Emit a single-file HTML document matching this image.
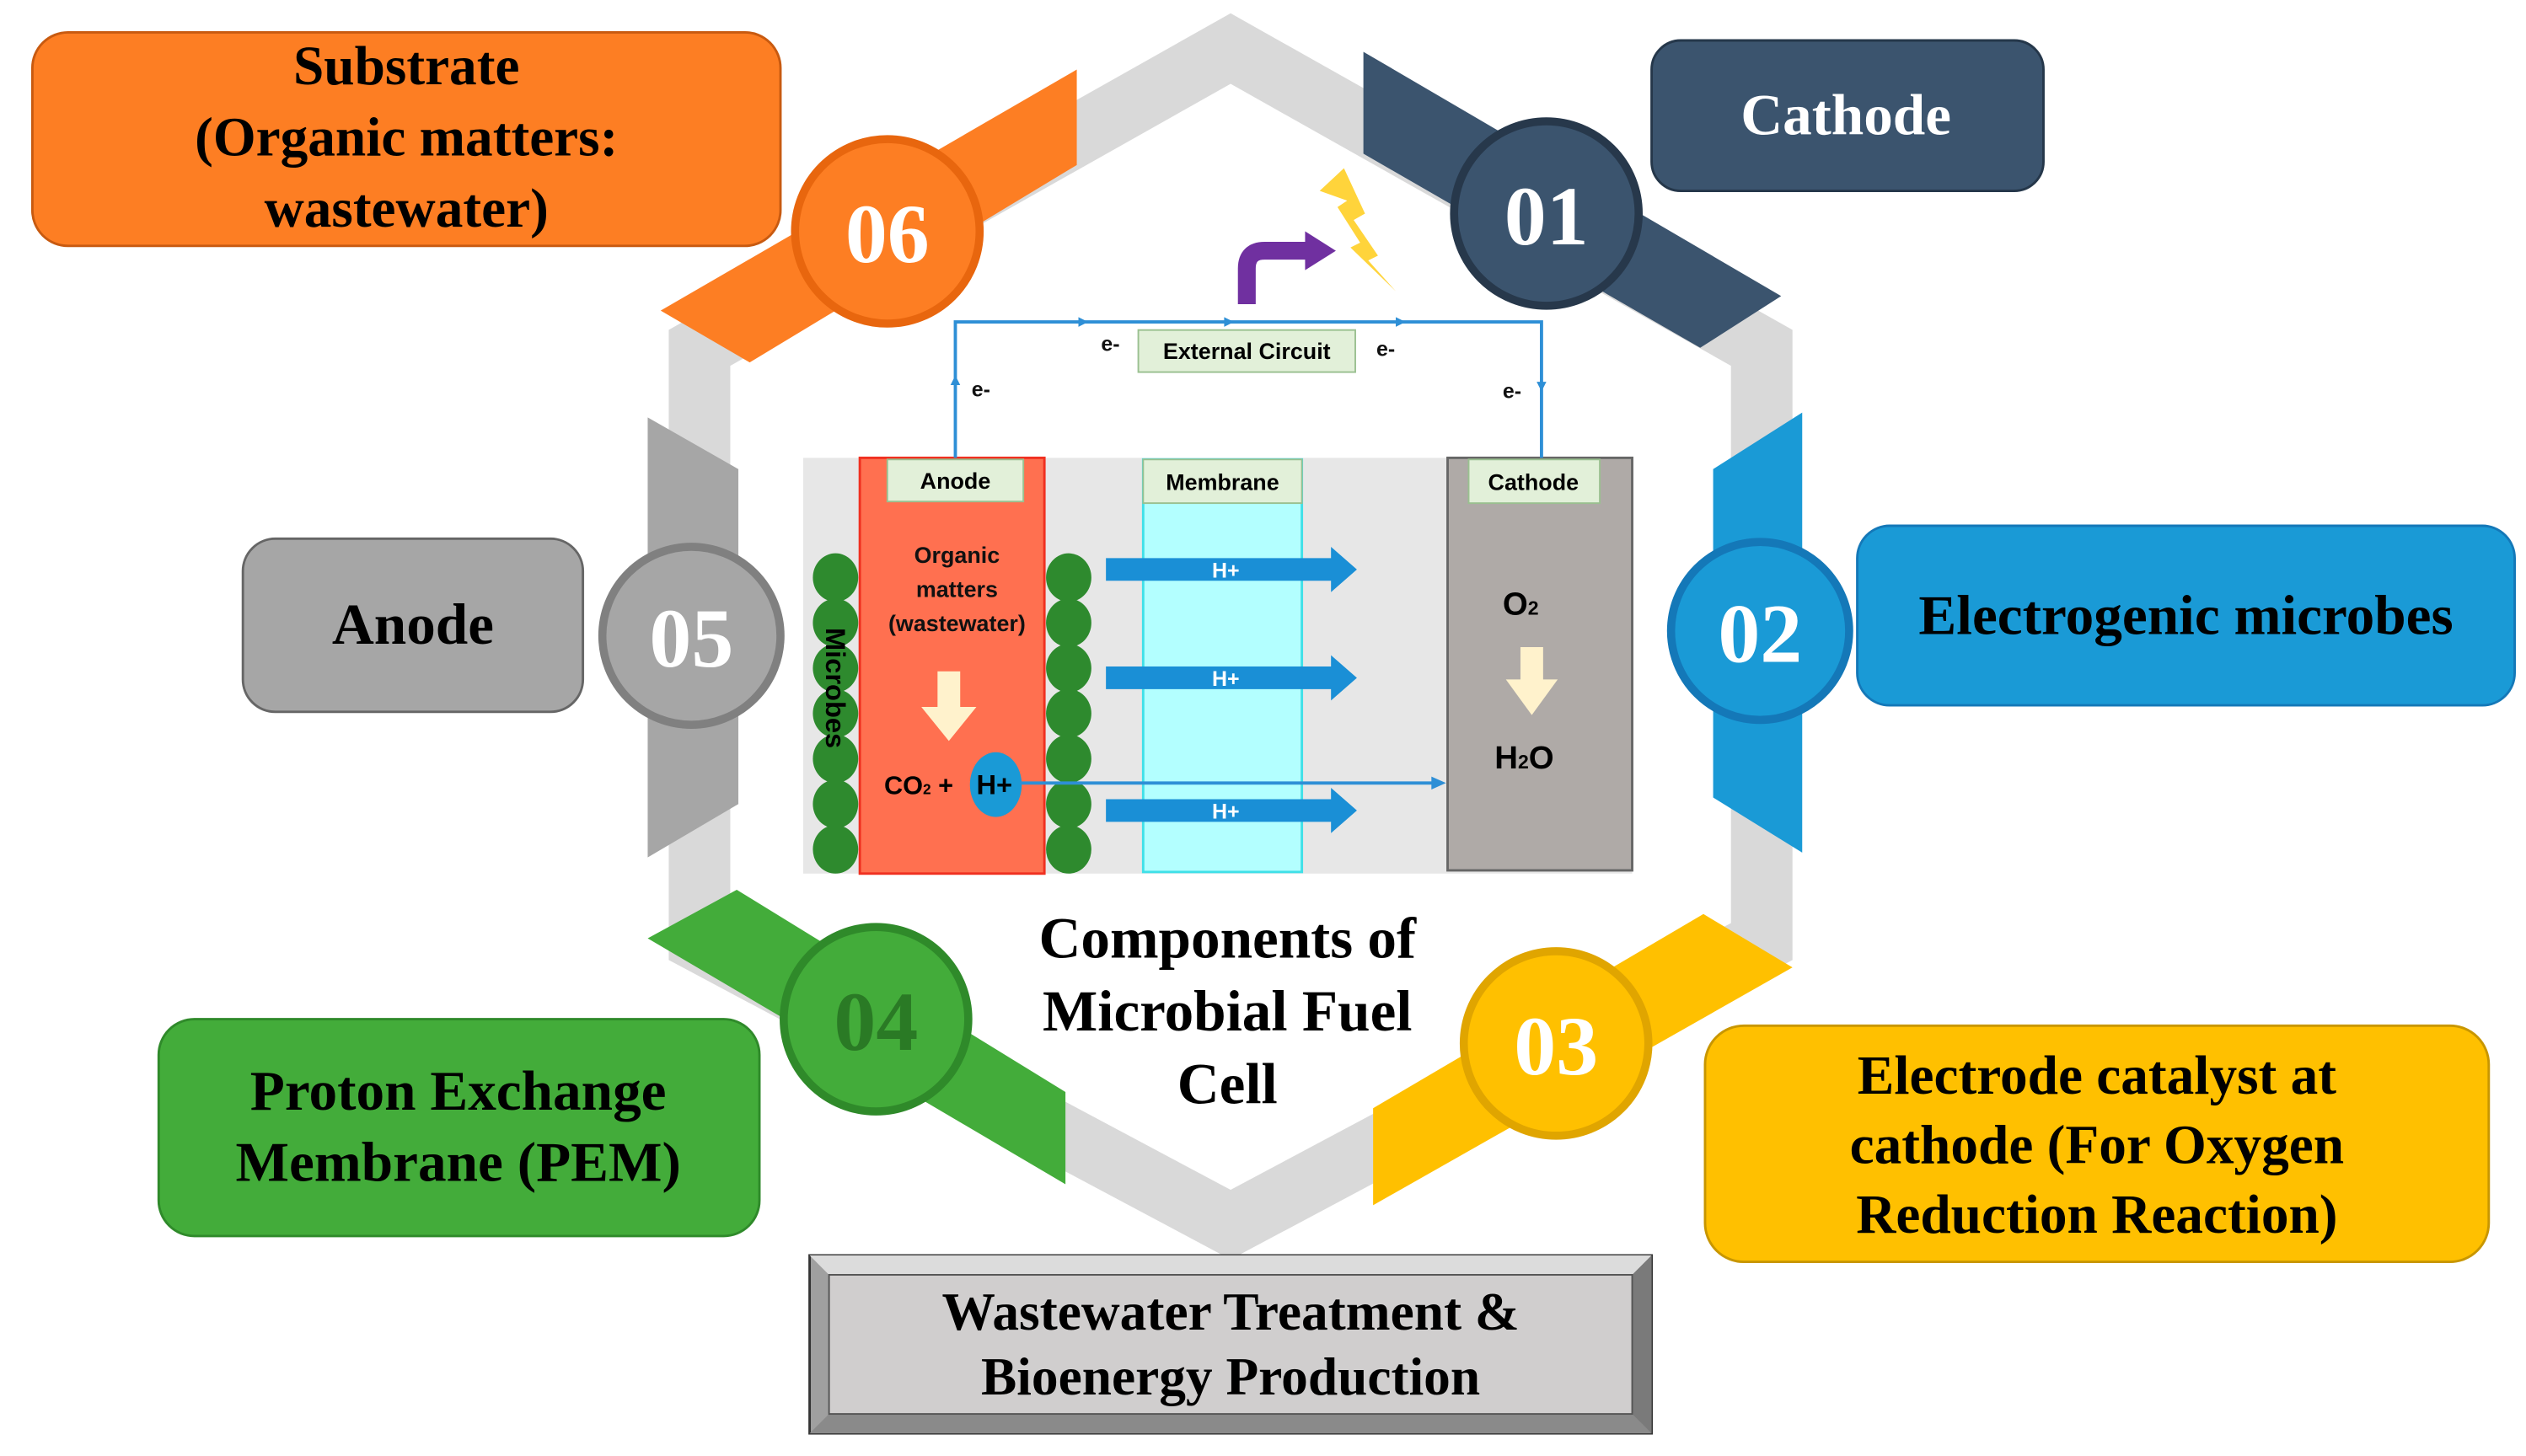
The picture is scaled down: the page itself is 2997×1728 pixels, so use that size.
<!DOCTYPE html>
<html><head><meta charset="utf-8"><style>
html,body{margin:0;padding:0;background:#fff;}
svg{display:block;}
.s{font-family:"Liberation Serif",serif;font-weight:bold;}
.a{font-family:"Liberation Sans",sans-serif;font-weight:bold;}
</style></head><body>
<svg width="2997" height="1728" viewBox="0 0 1560 900" preserveAspectRatio="none" xmlns="http://www.w3.org/2000/svg">
<rect width="1560" height="900" fill="#fff"/>
<polygon points="760,30 1088,215 1088,582 760,757 432,582 432,215" fill="none" stroke="#d9d9d9" stroke-width="38" stroke-linejoin="miter"/>
<polygon points="408,192 665,43 665,102 463,224" fill="#fd7e23"/>
<polygon points="842,32 1100,183 1050,215 842,95" fill="#3b546e"/>
<polygon points="1058,290 1113,255 1113,527 1058,493" fill="#1a9ad6"/>
<polygon points="400,258 456,290 456,497 400,530" fill="#a6a6a6"/>
<polygon points="400,580 455,550 658,675 658,732" fill="#43ac3a"/>
<polygon points="848,685 1052,565 1107,598 848,745" fill="#ffc000"/>
<rect x="20" y="20" width="462" height="132" rx="22" fill="#fd7e23" stroke="#c85a10" stroke-width="1.5"/>
<text class="s" font-size="34" text-anchor="middle"><tspan x="251" y="52">Substrate</tspan><tspan x="251" y="96">(Organic matters:</tspan><tspan x="251" y="140">wastewater)</tspan></text>
<rect x="1020" y="25" width="242" height="93" rx="18" fill="#3b546e" stroke="#25374a" stroke-width="1.5"/>
<text class="s" font-size="36" fill="#fff" x="1140" y="83" text-anchor="middle">Cathode</text>
<rect x="1147" y="325" width="406" height="111" rx="20" fill="#1a9ad6" stroke="#1478b8" stroke-width="1.5"/>
<text class="s" font-size="35" x="1350" y="392" text-anchor="middle">Electrogenic microbes</text>
<rect x="150" y="333" width="210" height="107" rx="20" fill="#a6a6a6" stroke="#666" stroke-width="1.5"/>
<text class="s" font-size="36" x="255" y="398" text-anchor="middle">Anode</text>
<rect x="98" y="630" width="371" height="134" rx="22" fill="#43ac3a" stroke="#2f8a2a" stroke-width="1.5"/>
<text class="s" font-size="35" text-anchor="middle"><tspan x="283" y="686">Proton Exchange</tspan><tspan x="283" y="730">Membrane (PEM)</tspan></text>
<rect x="1053" y="634" width="484" height="146" rx="24" fill="#ffc000" stroke="#c89600" stroke-width="1.5"/>
<text class="s" font-size="34" text-anchor="middle"><tspan x="1295" y="676">Electrode catalyst at</tspan><tspan x="1295" y="719">cathode (For Oxygen</tspan><tspan x="1295" y="762">Reduction Reaction)</tspan></text>
<rect x="500" y="776" width="520" height="110" fill="#a0a0a0" stroke="#333" stroke-width="1.5"/>
<polygon points="500,776 1020,776 1008,788 512,788" fill="#dcdcdc"/>
<polygon points="500,886 1020,886 1008,874 512,874" fill="#8a8a8a"/>
<polygon points="1020,776 1020,886 1008,874 1008,788" fill="#7a7a7a"/>
<rect x="512" y="788" width="496" height="86" fill="#d0cece" stroke="#555" stroke-width="1"/>
<text class="s" font-size="33" text-anchor="middle"><tspan x="760" y="822">Wastewater Treatment &amp;</tspan><tspan x="760" y="862">Bioenergy Production</tspan></text>
<circle cx="548" cy="143" r="57" fill="#fd7e23" stroke="#e8660e" stroke-width="5"/>
<text class="s" font-size="52" fill="#fff" x="548" y="162" text-anchor="middle">06</text>
<circle cx="955" cy="132" r="57" fill="#3b546e" stroke="#27384b" stroke-width="5"/>
<text class="s" font-size="52" fill="#fff" x="955" y="151" text-anchor="middle">01</text>
<circle cx="1087" cy="390" r="55" fill="#1a9ad6" stroke="#1478b8" stroke-width="5"/>
<text class="s" font-size="52" fill="#fff" x="1087" y="409" text-anchor="middle">02</text>
<circle cx="427" cy="393" r="55" fill="#a6a6a6" stroke="#808080" stroke-width="5"/>
<text class="s" font-size="52" fill="#fff" x="427" y="412" text-anchor="middle">05</text>
<circle cx="541" cy="630" r="57" fill="#43ac3a" stroke="#2f8a2a" stroke-width="5"/>
<text class="s" font-size="52" fill="#2a7a25" x="541" y="649" text-anchor="middle">04</text>
<circle cx="961" cy="645" r="57" fill="#ffc000" stroke="#e0a500" stroke-width="5"/>
<text class="s" font-size="52" fill="#fff" x="961" y="664" text-anchor="middle">03</text>
<text class="s" font-size="36" text-anchor="middle"><tspan x="758" y="592">Components of</tspan><tspan x="758" y="637">Microbial Fuel</tspan><tspan x="758" y="682">Cell</tspan></text>
<rect x="496" y="283" width="512" height="257" fill="#e7e7e7"/>
<rect x="531" y="283" width="114" height="257" fill="#ff7050" stroke="#f03020" stroke-width="1.5"/>
<rect x="706" y="284" width="98" height="255" fill="#b3ffff" stroke="#40e0e8" stroke-width="1.5"/>
<rect x="894" y="283" width="114" height="255" fill="#afaaa7" stroke="#666" stroke-width="1.5"/>
<rect x="548" y="284" width="84" height="26" fill="#e2f0d9" stroke="#9ac090"/>
<text class="a" font-size="14" x="590" y="302" text-anchor="middle">Anode</text>
<rect x="706" y="284" width="98" height="27" fill="#e2f0d9" stroke="#9ac090"/>
<text class="a" font-size="14" x="755" y="303" text-anchor="middle">Membrane</text>
<rect x="907" y="284" width="81" height="27" fill="#e2f0d9" stroke="#9ac090"/>
<text class="a" font-size="14" x="947" y="303" text-anchor="middle">Cathode</text>
<g fill="#2e8a2e">
<ellipse cx="516" cy="357" rx="14" ry="15"/><ellipse cx="516" cy="385" rx="14" ry="15"/><ellipse cx="516" cy="413" rx="14" ry="15"/><ellipse cx="516" cy="441" rx="14" ry="15"/><ellipse cx="516" cy="469" rx="14" ry="15"/><ellipse cx="516" cy="497" rx="14" ry="15"/><ellipse cx="516" cy="525" rx="14" ry="15"/>
<ellipse cx="660" cy="357" rx="14" ry="15"/><ellipse cx="660" cy="385" rx="14" ry="15"/><ellipse cx="660" cy="413" rx="14" ry="15"/><ellipse cx="660" cy="441" rx="14" ry="15"/><ellipse cx="660" cy="469" rx="14" ry="15"/><ellipse cx="660" cy="497" rx="14" ry="15"/><ellipse cx="660" cy="525" rx="14" ry="15"/>
</g>
<text class="a" font-size="17" transform="translate(510,388) rotate(90)">Microbes</text>
<text class="a" font-size="14" text-anchor="middle" fill="#111"><tspan x="591" y="348">Organic</tspan><tspan x="591" y="369">matters</tspan><tspan x="591" y="390">(wastewater)</tspan></text>
<polygon points="579,415 593,415 593,437 603,437 586,458 569,437 579,437" fill="#fff2cc"/>
<text class="a" font-size="16" x="546" y="491">CO<tspan font-size="9">2</tspan> +</text>
<ellipse cx="615" cy="485" rx="16" ry="20" fill="#1a9ad6"/>
<text class="a" font-size="17" x="603" y="491">H+</text>
<line x1="630" y1="484" x2="886" y2="484" stroke="#2e8fd6" stroke-width="2"/>
<polygon points="884,480 893,484 884,488" fill="#2e8fd6"/>
<g fill="#1a8fd6">
<polygon points="683,345 822,345 822,338 838,352 822,366 822,359 683,359"/>
<polygon points="683,412 822,412 822,405 838,419 822,433 822,426 683,426"/>
<polygon points="683,494 822,494 822,487 838,501 822,515 822,508 683,508"/>
</g>
<g class="a" font-size="13" fill="#fff" text-anchor="middle"><text x="757" y="357">H+</text><text x="757" y="424">H+</text><text x="757" y="506">H+</text></g>
<text class="a" font-size="20" x="928" y="380">O<tspan font-size="12">2</tspan></text>
<polygon points="939,400 953,400 953,420 962,420 946,442 930,420 939,420" fill="#fff2cc"/>
<text class="a" font-size="20" x="923" y="475">H<tspan font-size="12">2</tspan>O</text>
<polyline points="590,283 590,199 952,199 952,283" fill="none" stroke="#2e8fd6" stroke-width="2"/>
<g fill="#2e8fd6"><polygon points="666,196 672,199 666,202"/><polygon points="756,196 762,199 756,202"/><polygon points="862,196 868,199 862,202"/><polygon points="587,238 590,232 593,238"/><polygon points="949,236 952,242 955,236"/></g>
<rect x="703" y="204" width="134" height="26" fill="#e2f0d9" stroke="#9ac090"/>
<text class="a" font-size="14" x="770" y="222" text-anchor="middle">External Circuit</text>
<g class="a" font-size="13" fill="#111"><text x="680" y="217">e-</text><text x="850" y="220">e-</text><text x="600" y="245">e-</text><text x="928" y="246">e-</text></g>
<path d="M770,188 L770,166 Q770,155 781,155 L808,155" fill="none" stroke="#7030a0" stroke-width="11"/>
<polygon points="806,143 825,155 806,167" fill="#7030a0"/>
<polygon points="815,118 830,104 843,132 836,136 851,158 845,161 862,180 834,153 840,150 826,128 832,124" fill="#ffd43b"/>
</svg>
</body></html>
